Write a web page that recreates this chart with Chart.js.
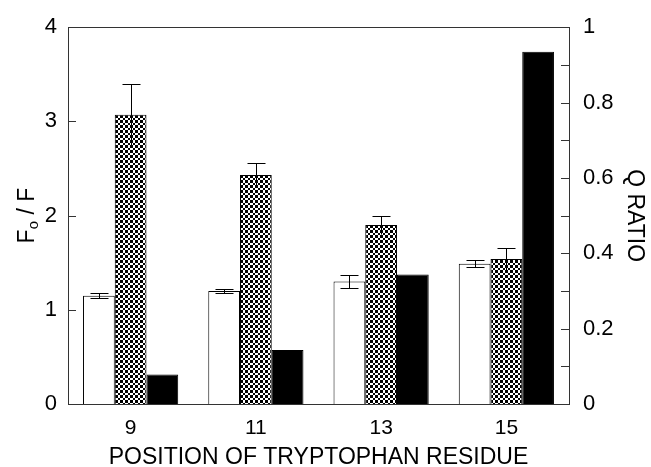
<!DOCTYPE html>
<html>
<head>
<meta charset="utf-8">
<script src="https://cdn.jsdelivr.net/npm/chart.js@4"></script>
<style>
  html, body { margin: 0; padding: 0; background: #fff; }
  #wrap { width: 651px; height: 467px; }
</style>
</head>
<body>
<div id="wrap"><canvas id="myChart" width="651" height="467"></canvas></div>
<script>
// positions of the tryptophan residue
const categories = ["9", "11", "13", "15"];
// Fo/F, open bars
const foF = [1.15, 1.20, 1.30, 1.49];
const foFErr = [0.03, 0.02, 0.07, 0.04];
// Fo/F, checkered bars
const foF2 = [3.07, 2.43, 1.90, 1.54];
const foF2Err = [0.33, 0.13, 0.10, 0.12];
// Q ratio, black bars (right axis)
const qRatio = [0.078, 0.143, 0.344, 0.935];

const leftTicks = [0, 1, 2, 3, 4];

const FONT = "'Liberation Sans', Arial, sans-serif";

const canvas = document.getElementById("myChart");
const ctx = canvas.getContext("2d");

function makeChecker() {
  let c = document.createElement("canvas");
  c.width = 5;
  c.height = 5;
  let g = c.getContext("2d");
  g.fillStyle = "#fff";
  g.fillRect(0, 0, 5, 5);
  g.fillStyle = "#000";
  g.fillRect(0, 0, 3, 3);
  g.fillRect(3, 3, 2, 2);
  return ctx.createPattern(c, "repeat");
}

// error bars, inward ticks, frame and left title
const extras = {
  id: "extras",
  afterDatasetsDraw(chart) {
    const c = chart.ctx;
    const y = chart.scales.y;
    const errs = [foFErr, foF2Err];
    const vals = [foF, foF2];
    c.save();
    c.strokeStyle = "#000";
    c.lineWidth = 1;
    for (let d = 0; d < 2; d++) {
      const meta = chart.getDatasetMeta(d);
      meta.data.forEach(function (bar, i) {
        const x = Math.round(bar.x) + 0.5;
        const hi = Math.round(y.getPixelForValue(vals[d][i] + errs[d][i])) + 0.5;
        const lo = Math.round(y.getPixelForValue(vals[d][i] - errs[d][i])) + 0.5;
        c.beginPath();
        c.moveTo(x, hi);
        c.lineTo(x, lo);
        c.moveTo(x - 9, hi);
        c.lineTo(x + 9, hi);
        if (d == 0) {
          c.moveTo(x - 9, lo);
          c.lineTo(x + 9, lo);
        }
        c.stroke();
      });
    }
    c.restore();
  },
  afterDraw(chart) {
    const c = chart.ctx;
    const a = chart.chartArea;
    c.save();
    c.strokeStyle = "#333";
    c.lineWidth = 1;
    c.strokeRect(Math.round(a.left) + 0.5, Math.round(a.top) + 0.5,
      Math.round(a.right - a.left), Math.round(a.bottom - a.top));
    c.beginPath();
    chart.scales.y.ticks.forEach(function (t) {
      const py = Math.round(chart.scales.y.getPixelForValue(t.value)) + 0.5;
      c.moveTo(a.left, py);
      c.lineTo(a.left + 8, py);
    });
    chart.scales.y1.ticks.forEach(function (t) {
      const py = Math.round(chart.scales.y1.getPixelForValue(t.value)) + 0.5;
      c.moveTo(a.right, py);
      c.lineTo(a.right - 8, py);
    });
    c.stroke();

    // F_o / F
    c.fillStyle = "#000";
    c.translate(28, (a.top + a.bottom) / 2);
    c.rotate(-Math.PI / 2);
    c.textBaseline = "middle";
    c.font = "23px " + FONT;
    const w1 = c.measureText("F").width;
    c.font = "15px " + FONT;
    const w2 = c.measureText("o").width;
    c.font = "23px " + FONT;
    const w3 = c.measureText(" / F").width;
    let x0 = -(w1 + w2 + w3) / 2;
    c.textAlign = "left";
    c.fillText("F", x0, 0);
    c.font = "15px " + FONT;
    c.fillText("o", x0 + w1, 6);
    c.font = "23px " + FONT;
    c.fillText(" / F", x0 + w1 + w2, 0);
    c.restore();
  }
};

const data = {
  labels: categories,
  datasets: [
    {
      label: "Fo/F open",
      data: foF,
      backgroundColor: "#fff",
      borderColor: "#000",
      borderWidth: 1,
      yAxisID: "y"
    },
    {
      label: "Fo/F checkered",
      data: foF2,
      backgroundColor: makeChecker(),
      borderColor: "#000",
      borderWidth: 1,
      yAxisID: "y"
    },
    {
      label: "Q ratio",
      data: qRatio,
      backgroundColor: "#000",
      borderColor: "#000",
      borderWidth: 1,
      yAxisID: "y1"
    }
  ]
};

const config = {
  type: "bar",
  data: data,
  options: {
    responsive: false,
    animation: { duration: 0 },
    datasets: { bar: { categoryPercentage: 0.76, barPercentage: 1 } },
    layout: { padding: { top: 20 } },
    plugins: { legend: { display: false }, tooltip: { enabled: false } },
    scales: {
      x: {
        grid: { display: false, drawTicks: false },
        border: { display: false },
        ticks: { color: "#000", padding: 12, font: { family: FONT, size: 21 } },
        title: {
          display: true,
          text: "POSITION OF TRYPTOPHAN RESIDUE",
          color: "#000",
          font: { family: FONT, size: 23 },
          padding: { top: 0, bottom: -4 }
        },
        afterFit(s) { s.height = 63; }
      },
      y: {
        position: "left",
        min: 0,
        max: 4,
        grid: { display: false, drawTicks: false },
        border: { display: false },
        afterBuildTicks(s) { s.ticks = leftTicks.map(v => ({ value: v })); },
        ticks: { color: "#000", padding: 11, font: { family: FONT, size: 22 } },
        afterFit(s) { s.width = 68; }
      },
      y1: {
        position: "right",
        min: 0,
        max: 1,
        grid: { display: false, drawTicks: false },
        border: { display: false },
        ticks: {
          stepSize: 0.1,
          color: "#000",
          padding: 14,
          font: { family: FONT, size: 22 },
          callback: function (v) {
            const k = Math.round(v * 10);
            return k % 2 == 0 ? String(k / 10) : "";
          }
        },
        title: {
          display: true,
          text: "Q RATIO",
          color: "#000",
          font: { family: FONT, size: 23 },
          padding: { top: 3, bottom: 0 }
        },
        afterFit(s) { s.width = 82; }
      }
    }
  },
  plugins: [extras]
};

let myChart = new Chart(canvas, config);
</script>
</body>
</html>
